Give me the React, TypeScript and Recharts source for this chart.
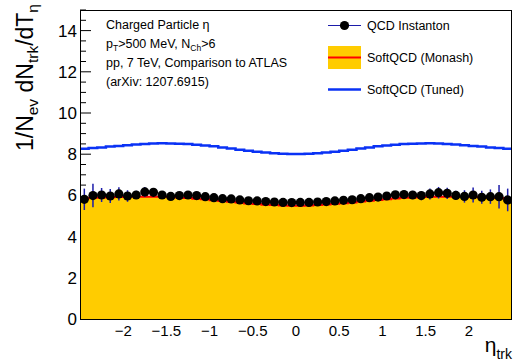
import { Area, ComposedChart, ErrorBar, Line, XAxis, YAxis } from "recharts"

// eta bins: 50 bins of width 0.1 from -2.5 to 2.5
const binEdges = [-2.5, 2.5]
const binCenters = Array.from({ length: 50 }, (_, i) => Math.round((-2.45 + i * 0.1) * 100) / 100)

// QCD Instanton (points with stat. errors)
const instanton = [
  5.81, 5.99, 6.02, 5.97, 6.07, 5.97, 6.02, 6.17, 6.15, 6.02,
  5.95, 5.99, 6.02, 5.99, 5.94, 5.89, 5.84, 5.83, 5.78, 5.74,
  5.73, 5.7, 5.68, 5.66, 5.65, 5.66, 5.66, 5.68, 5.7, 5.73,
  5.76, 5.79, 5.84, 5.89, 5.92, 5.97, 6.03, 6.04, 6.02, 5.99,
  6.07, 6.13, 6.1, 6.0, 5.95, 6.02, 5.91, 5.94, 5.94, 5.78,
]
const instantonErr = [
  0.52, 0.57, 0.34, 0.34, 0.32, 0.28, 0.2, 0.24, 0.2, 0.18,
  0.16, 0.15, 0.14, 0.13, 0.12, 0.12, 0.12, 0.12, 0.12, 0.12,
  0.12, 0.12, 0.12, 0.12, 0.12, 0.12, 0.12, 0.12, 0.12, 0.12,
  0.12, 0.12, 0.12, 0.12, 0.13, 0.14, 0.16, 0.2, 0.2, 0.22,
  0.27, 0.28, 0.27, 0.22, 0.3, 0.36, 0.32, 0.35, 0.57, 0.55,
]

// SoftQCD (Monash)
const monash = [
  5.86, 5.88, 5.9, 5.91, 5.92, 5.93, 5.94, 5.94, 5.94, 5.93,
  5.92, 5.9, 5.87, 5.84, 5.81, 5.77, 5.73, 5.69, 5.65, 5.61,
  5.58, 5.55, 5.53, 5.51, 5.5, 5.5, 5.51, 5.53, 5.56, 5.59,
  5.62, 5.66, 5.7, 5.74, 5.78, 5.81, 5.85, 5.88, 5.9, 5.92,
  5.93, 5.94, 5.94, 5.94, 5.93, 5.92, 5.91, 5.89, 5.87, 5.85,
]

// SoftQCD (Tuned)
const tuned = [
  8.27, 8.3, 8.33, 8.37, 8.4, 8.44, 8.47, 8.5, 8.52, 8.53,
  8.52, 8.51, 8.49, 8.46, 8.42, 8.38, 8.33, 8.28, 8.22, 8.17,
  8.12, 8.08, 8.05, 8.02, 8.01, 8.01, 8.02, 8.05, 8.08, 8.12,
  8.17, 8.22, 8.28, 8.33, 8.38, 8.42, 8.46, 8.49, 8.51, 8.52,
  8.53, 8.52, 8.5, 8.47, 8.44, 8.4, 8.37, 8.33, 8.3, 8.27,
]

const yMajor = [0, 2, 4, 6, 8, 10, 12, 14]
const yTicks = Array.from({ length: 31 }, (_, i) => i * 0.5)
const xMajor = [-2, -1.5, -1, -0.5, 0, 0.5, 1, 1.5, 2]

// the filled histogram is drawn over the frame ticks, so tick marks
// below its top (and under the markers) are not shown
const hiddenTickBelow = 6.2

// histogram rows, padded with the outer bin edges so the steps reach the frame
const histRows = [
  { eta: binEdges[0], monash: monash[0], tuned: tuned[0] },
  ...binCenters.map((eta, i) => ({ eta, monash: monash[i], tuned: tuned[i] })),
  { eta: binEdges[1], monash: monash[49], tuned: tuned[49] },
]
const pointRows = binCenters.map((eta, i) => ({ eta, value: instanton[i], err: instantonErr[i] }))

const FONT = "'Liberation Sans', Arial, Helvetica, sans-serif"
const W = 515
const H = 363
const PLOT = { left: 80, right: 512, top: 10, bottom: 319 }

const fmt = (v: number) => String(v).replace("-", "\u2212")

const YTick = (props: any) => {
  const { x, y, payload } = props
  const v = payload.value
  const major = yMajor.includes(v)
  return (
    <g>
      {v > hiddenTickBelow && (
        <line x1={x} x2={x + (major ? 11 : 6)} y1={y} y2={y} stroke="#000" strokeWidth={1} />
      )}
      {major && (
        <text x={x - 3} y={y} dy={6} textAnchor="end" fontSize={17} fontFamily={FONT} fill="#000">
          {v}
        </text>
      )}
    </g>
  )
}

const XTick = (props: any) => {
  const { x, y, payload } = props
  return (
    <text x={x} y={y} dy={17} textAnchor="middle" fontSize={15} fontFamily={FONT} fill="#000">
      {fmt(payload.value)}
    </text>
  )
}

export default function App() {
  return (
    <div style={{ position: "absolute", left: 0, top: 0, width: W, height: H, background: "#fff" }}>
      <ComposedChart
        width={W}
        height={H}
        data={histRows}
        margin={{ top: PLOT.top, right: W - PLOT.right, bottom: 0, left: 20 }}
      >
        <XAxis
          dataKey="eta"
          type="number"
          domain={[-2.5, 2.5]}
          ticks={xMajor}
          interval={0}
          allowDataOverflow
          axisLine={false}
          tickLine={false}
          tickSize={0}
          tickMargin={0}
          height={H - PLOT.bottom}
          tick={<XTick />}
        />
        <YAxis
          type="number"
          domain={[0, 15]}
          ticks={yTicks}
          interval={0}
          allowDataOverflow
          axisLine={false}
          tickLine={false}
          tickSize={0}
          tickMargin={0}
          width={PLOT.left - 20}
          tick={<YTick />}
        />
        <Area
          type="step"
          dataKey="monash"
          fill="#ffcc00"
          fillOpacity={1}
          stroke="#ff0000"
          strokeWidth={2}
          baseValue={0}
          isAnimationActive={false}
        />
        <Line
          type="step"
          dataKey="tuned"
          stroke="#0a32f5"
          strokeWidth={2.5}
          dot={false}
          isAnimationActive={false}
        />
        <Line
          data={pointRows}
          dataKey="value"
          stroke="none"
          dot={{ r: 4.6, fill: "#000", stroke: "#000", strokeWidth: 0 }}
          isAnimationActive={false}
        >
          <ErrorBar dataKey="err" direction="y" width={0} stroke="#1c1caa" strokeWidth={1.5} />
        </Line>
      </ComposedChart>

      <svg
        width={W}
        height={H}
        style={{ position: "absolute", left: 0, top: 0, pointerEvents: "none" }}
        fontFamily={FONT}
      >
        {/* frame */}
        <rect
          x={PLOT.left + 0.5}
          y={PLOT.top + 0.5}
          width={PLOT.right - PLOT.left - 1}
          height={PLOT.bottom - PLOT.top}
          fill="none"
          stroke="#000"
          strokeWidth={1}
        />

        {/* axis titles */}
        <text transform="translate(33,4) rotate(-90)" textAnchor="end" fontSize={23} fill="#000">
          1/N<tspan dy={5} fontSize={15.5}>ev</tspan>
          <tspan dy={-5}> dN</tspan>
          <tspan dy={5} fontSize={15.5}>trk</tspan>
          <tspan dy={-5}>/dT</tspan>
          <tspan dy={5} fontSize={15.5}>η</tspan>
        </text>
        <text x={512} y={352} textAnchor="end" fontSize={21} fill="#000">
          η<tspan dy={7} fontSize={14}>trk</tspan>
        </text>

        {/* description */}
        <g fontSize={12.5} fill="#000">
          <text x={106} y={28.5}>Charged Particle η</text>
          <text x={106} y={47.5}>
            p<tspan dy={3} fontSize={8.5}>T</tspan>
            <tspan dy={-3}>&gt;500 MeV, N</tspan>
            <tspan dy={3} fontSize={8.5}>Ch</tspan>
            <tspan dy={-3}>&gt;6</tspan>
          </text>
          <text x={106} y={66.5}>pp, 7 TeV, Comparison to ATLAS</text>
          <text x={106} y={85.5}>(arXiv: 1207.6915)</text>
        </g>

        {/* legend */}
        <line x1={328} x2={361} y1={25.5} y2={25.5} stroke="#1c1caa" strokeWidth={1.2} />
        <circle cx={344.5} cy={25.5} r={4.6} fill="#000" />
        <rect x={328} y={46} width={33} height={23} fill="#ffcc00" />
        <line x1={328} x2={361} y1={57.5} y2={57.5} stroke="#ff0000" strokeWidth={2} />
        <line x1={328} x2={361} y1={89.5} y2={89.5} stroke="#0a32f5" strokeWidth={2.5} />
        <g fontSize={12.5} fill="#000">
          <text x={367} y={30}>QCD Instanton</text>
          <text x={367} y={62}>SoftQCD (Monash)</text>
          <text x={367} y={94}>SoftQCD (Tuned)</text>
        </g>
      </svg>
    </div>
  )
}
